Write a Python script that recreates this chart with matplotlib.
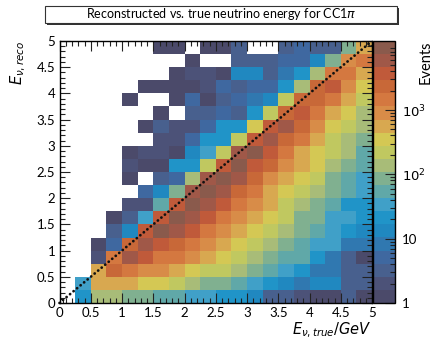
import numpy as np
import matplotlib
matplotlib.use("Agg")
import matplotlib.pyplot as plt
from matplotlib.colors import ListedColormap, LogNorm
from matplotlib.patches import Rectangle
from matplotlib.ticker import MultipleLocator, FixedLocator, FixedFormatter, LogLocator, NullFormatter

plt.rcParams['font.family'] = ['Lato', 'DejaVu Sans']
plt.rcParams['mathtext.fontset'] = 'dejavusans'

# bin edges (GeV)
x_edges = np.linspace(0, 5, 21)
y_edges = np.linspace(0, 5, 21)

# events per bin, rows listed from top (reco 4.75-5) to bottom (reco 0-0.25)
counts_top_down = [
    [0, 0, 0, 0, 0, 0, 1, 1, 0, 1, 1, 3, 0, 0, 3, 5, 3, 3, 70, 460],
    [0, 0, 0, 0, 0, 0, 0, 0, 1, 0, 0, 3, 3, 3, 5, 5, 11, 70, 730, 1170],
    [0, 0, 0, 0, 0, 0, 0, 1, 2, 2, 1, 11, 11, 3, 7, 17, 115, 1170, 1170, 460],
    [0, 0, 0, 0, 0, 1, 1, 1, 1, 2, 5, 3, 5, 5, 17, 115, 1850, 2950, 730, 290],
    [0, 0, 0, 0, 1, 0, 0, 1, 5, 1, 3, 5, 7, 11, 180, 1850, 1850, 1170, 460, 180],
    [0, 0, 0, 0, 0, 0, 1, 0, 3, 3, 5, 3, 17, 180, 1850, 2950, 1170, 460, 290, 115],
    [0, 0, 0, 0, 0, 1, 3, 2, 2, 5, 17, 17, 290, 2950, 4700, 1850, 730, 290, 180, 115],
    [0, 0, 0, 0, 0, 0, 2, 2, 5, 17, 17, 180, 2950, 4700, 1850, 1170, 460, 180, 115, 70],
    [0, 0, 0, 0, 1, 2, 2, 1, 11, 28, 180, 4700, 7500, 2950, 1170, 460, 290, 180, 115, 45],
    [0, 0, 0, 0, 2, 1, 1, 17, 17, 180, 2950, 7500, 2950, 1850, 730, 460, 290, 115, 70, 45],
    [0, 0, 0, 0, 1, 0, 3, 5, 115, 4700, 7500, 4700, 1850, 730, 460, 290, 180, 70, 45, 28],
    [0, 0, 0, 0, 0, 5, 11, 70, 4700, 7500, 4700, 1850, 1170, 460, 290, 180, 115, 70, 45, 28],
    [0, 0, 0, 0, 2, 2, 45, 2950, 7500, 4700, 2950, 1170, 730, 460, 180, 115, 70, 45, 17, 17],
    [0, 0, 0, 1, 3, 28, 2950, 7500, 4700, 2950, 1170, 730, 460, 290, 180, 70, 70, 28, 28, 17],
    [0, 0, 0, 3, 11, 2950, 7500, 4700, 2950, 1170, 730, 460, 290, 180, 115, 70, 45, 28, 17, 11],
    [0, 0, 1, 5, 1850, 4700, 2950, 1850, 1170, 730, 460, 290, 180, 115, 70, 45, 28, 28, 7, 7],
    [0, 0, 2, 1170, 4700, 2950, 1170, 1170, 730, 460, 290, 180, 115, 70, 45, 45, 17, 7, 3, 1],
    [0, 0, 460, 1850, 1170, 730, 730, 460, 290, 180, 180, 115, 70, 45, 28, 17, 7, 7, 3, 3],
    [0, 28, 460, 460, 460, 290, 290, 180, 115, 70, 70, 45, 28, 17, 11, 7, 11, 11, 3, 3],
    [0, 17, 115, 115, 70, 70, 45, 45, 28, 28, 17, 17, 11, 3, 3, 2, 1, 1, 3, 1],
]

z_min, z_max = 1, 11750
cbar_ticks = [1, 10, 100, 1000]
cbar_ticklabels = ['1', '10', r'$10^2$', r'$10^3$']

palette = ['#4b4a6a', '#4c5278', '#48608e', '#3f68a0', '#3078b0',
           '#2088c0', '#2094c8', '#40a0c8', '#60a8a8', '#80b090',
           '#a8bc78', '#c0c860', '#d4c854', '#d8a850', '#d88c48',
           '#d47840', '#c86838', '#c05a3a', '#a05848', '#8a5a4c']

counts = np.array(counts_top_down, dtype=float)[::-1]
counts = np.ma.masked_where(counts <= 0, counts)

W, H = 438, 339
fig = plt.figure(figsize=(W / 100, H / 100), dpi=100)
ax = fig.add_axes([59.5 / W, 1 - 303 / H, 312.5 / W, 262 / H])
cax = fig.add_axes([373 / W, 1 - 303 / H, 22 / W, 262 / H])

cmap = ListedColormap(palette)
norm = LogNorm(vmin=z_min, vmax=z_max)
mesh = ax.pcolormesh(x_edges, y_edges, counts, cmap=cmap, norm=norm)

# diagonal reco = true
ax.plot([0, 5], [0, 5], color='#111111', lw=2.0, ls=(0, (0.05, 1.6)),
        dash_capstyle='round', clip_on=False)
ax.plot([0.03], [0.03], marker='s', ms=3.5, mfc='none', mec='#111111', mew=0.7)
ax.plot([4.97], [4.97], marker='o', ms=3.5, mfc='none', mec='#111111', mew=0.7)

ax.set_xlim(0, 5)
ax.set_ylim(0, 5)
ax.xaxis.set_major_locator(MultipleLocator(0.5))
ax.xaxis.set_minor_locator(MultipleLocator(0.1))
ax.yaxis.set_major_locator(MultipleLocator(0.5))
ax.yaxis.set_minor_locator(MultipleLocator(0.1))
ax.xaxis.set_major_formatter(plt.FormatStrFormatter('%g'))
ax.yaxis.set_major_formatter(plt.FormatStrFormatter('%g'))
ax.tick_params(which='both', direction='in', top=True, right=True,
               labelsize=9.5, width=0.8, color='#222222')
ax.tick_params(which='major', length=7, pad=3)
ax.tick_params(which='minor', length=3.5)
for s in ax.spines.values():
    s.set_linewidth(1.0)

ax.set_xlabel(r'$E_{\nu,true}/GeV$', loc='right', fontsize=10.5, labelpad=1)
ax.set_ylabel(r'$E_{\nu,reco}$', loc='top', fontsize=10.5, labelpad=6)

cb = fig.colorbar(mesh, cax=cax)
cb.outline.set_linewidth(1.0)
cax.yaxis.set_major_locator(FixedLocator(cbar_ticks))
cax.yaxis.set_major_formatter(FixedFormatter(cbar_ticklabels))
cax.yaxis.set_minor_locator(LogLocator(base=10, subs=np.arange(2, 10)))
cax.yaxis.set_minor_formatter(NullFormatter())
cax.tick_params(which='both', direction='in', left=False, right=True, labelsize=9.5,
                width=0.8, color='#222222')
cax.tick_params(which='major', length=7, pad=5)
cax.tick_params(which='minor', length=3.5)
fig.text(426 / W, 1 - 41 / H, 'Events', rotation=90, ha='center', va='top',
         fontsize=10.5)

# title box with shadow
bx0, by0, bw, bh = 45 / W, 1 - 23 / H, 352 / W, 17 / H
fig.patches.append(Rectangle((bx0 + 2 / W, by0 - 2 / H), bw, bh, transform=fig.transFigure,
                             facecolor='#333333', edgecolor='none'))
fig.patches.append(Rectangle((bx0, by0), bw, bh, transform=fig.transFigure,
                             facecolor='white', edgecolor='#333333', lw=0.8))
fig.text(bx0 + bw / 2, by0 + bh / 2, r'Reconstructed vs. true neutrino energy for CC1$\pi$',
         ha='center', va='center', fontsize=9)

fig.savefig('out.png', dpi=100)
